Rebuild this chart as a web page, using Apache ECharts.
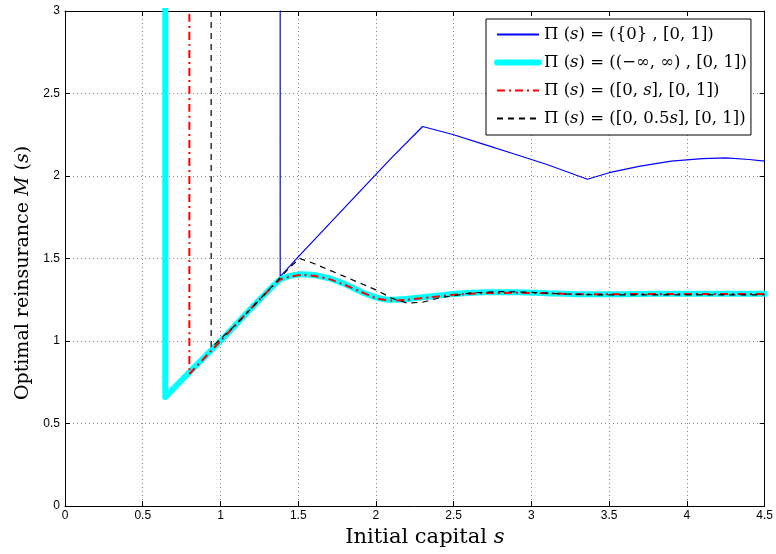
<!DOCTYPE html>
<html>
<head>
<meta charset="utf-8">
<script src="https://cdn.jsdelivr.net/npm/echarts@6/dist/echarts.min.js"></script>
<style>html,body{margin:0;padding:0;background:#fff}#c{width:776px;height:554px}</style>
</head>
<body>
<div id="c"></div>
<script>
// ---- data ----
var xTicks = [0, 0.5, 1, 1.5, 2, 2.5, 3, 3.5, 4, 4.5];
var yTicks = [0, 0.5, 1, 1.5, 2, 2.5, 3];

var sBlue = [1.384, 1.384, 1.5, 1.7, 1.9, 2.1, 2.3, 2.5, 2.7, 2.9, 3.1, 3.36, 3.5, 3.7, 3.9, 4.1, 4.25, 4.4, 4.5];
var mBlue = [3.2, 1.39, 1.51, 1.71, 1.91, 2.11, 2.30, 2.25, 2.19, 2.13, 2.07, 1.98, 2.02, 2.06, 2.09, 2.105, 2.11, 2.10, 2.09];

var sCyan = [0.645, 0.645, 0.8, 1.0, 1.2, 1.38, 1.45, 1.52, 1.6, 1.7, 1.8, 1.9, 2.0, 2.1, 2.2, 2.35, 2.5, 2.7, 2.9, 3.1, 3.3, 3.5, 3.7, 3.9, 4.1, 4.3, 4.5];
var mCyan = [3.2, 0.66, 0.81, 1.0, 1.2, 1.37, 1.395, 1.405, 1.40, 1.38, 1.345, 1.30, 1.265, 1.25, 1.255, 1.27, 1.285, 1.295, 1.295, 1.29, 1.283, 1.283, 1.285, 1.287, 1.287, 1.287, 1.287];

var sRed = [0.80, 0.80, 1.0, 1.2, 1.38, 1.45, 1.52, 1.6, 1.7, 1.8, 1.9, 2.0, 2.1, 2.2, 2.35, 2.5, 2.7, 2.9, 3.1, 3.3, 3.5, 3.7, 3.9, 4.1, 4.3, 4.5];
var mRed = [3.2, 0.80, 1.0, 1.2, 1.37, 1.39, 1.40, 1.395, 1.375, 1.34, 1.30, 1.26, 1.245, 1.25, 1.265, 1.28, 1.29, 1.292, 1.29, 1.283, 1.283, 1.285, 1.285, 1.285, 1.285, 1.285];

var sBlack = [0.94, 0.94, 1.1, 1.25, 1.38, 1.45, 1.51, 1.6, 1.7, 1.8, 1.9, 2.0, 2.1, 2.2, 2.3, 2.4, 2.5, 2.6, 2.8, 3.0, 3.2, 3.4, 3.6, 4.0, 4.5];
var mBlack = [3.2, 0.96, 1.1, 1.25, 1.38, 1.45, 1.50, 1.47, 1.43, 1.39, 1.35, 1.31, 1.26, 1.23, 1.235, 1.26, 1.275, 1.29, 1.30, 1.295, 1.285, 1.28, 1.28, 1.28, 1.28];

var names = [
  'Π (s) = ({0} , [0, 1])',
  'Π (s) = ((−∞, ∞) , [0, 1])',
  'Π (s) = ([0, s], [0, 1])',
  'Π (s) = ([0, 0.5s], [0, 1])'
];
var legendRich = [
  'Π ({i|s}) = ({0} , [0, 1])',
  'Π ({i|s}) = ((−∞, ∞) , [0, 1])',
  'Π ({i|s}) = ([0, {i|s}], [0, 1])',
  'Π ({i|s}) = ([0, 0.5{i|s}], [0, 1])'
];

function pairs(xs, ys) { return xs.map(function (x, i) { return [x, ys[i]]; }); }

var serif = 'DejaVu Serif';
var chart = echarts.init(document.getElementById('c'), null, { renderer: 'canvas' });

var option = {
  animation: false,
  backgroundColor: '#fff',
  grid: { left: 65, right: 10, top: 11, bottom: 48, show: false },
  legend: {
    orient: 'vertical',
    left: 486, top: 19,
    padding: [7, 4, 8, 8],
    itemGap: 11,
    itemWidth: 42, itemHeight: 14,
    borderColor: '#000', borderWidth: 1, borderRadius: 0,
    backgroundColor: '#fff',
    itemStyle: { opacity: 0 },
    data: [
      { name: names[0] },
      { name: names[1], lineStyle: { width: 6 } },
      { name: names[2] },
      { name: names[3] }
    ],
    formatter: function (n) { return legendRich[names.indexOf(n)]; },
    textStyle: {
      fontFamily: serif, fontSize: 16.5, color: '#000',
      rich: { i: { fontFamily: serif, fontSize: 16.5, fontStyle: 'italic', color: '#000' } }
    }
  },
  xAxis: [{
    type: 'value', min: 0, max: 4.5, interval: 0.5,
    name: 'Initial capital {i|s}', nameLocation: 'middle', nameGap: 20,
    nameTextStyle: { fontFamily: serif, fontSize: 21, color: '#000', padding: [0, 0, 0, 20],
      rich: { i: { fontFamily: serif, fontSize: 21, fontStyle: 'italic', color: '#000' } } },
    axisLine: { show: true, onZero: false, lineStyle: { color: '#000', width: 1 } },
    axisTick: { inside: true, length: 5, lineStyle: { color: '#000' } },
    axisLabel: { color: '#000', fontFamily: 'Liberation Sans', fontSize: 12, margin: 4,
      formatter: function (v) { return String(v); } },
    splitLine: { show: true, lineStyle: { color: '#888', type: [1, 3], width: 1 } }
  }, {
    type: 'value', min: 0, max: 4.5, interval: 0.5, position: 'top',
    axisLine: { show: true, onZero: false, lineStyle: { color: '#000', width: 1 } },
    axisTick: { inside: true, length: 5, lineStyle: { color: '#000' } },
    axisLabel: { show: false }, splitLine: { show: false }
  }],
  yAxis: [{
    type: 'value', min: 0, max: 3, interval: 0.5,
    name: 'Optimal reinsurance {i|M} ({i|s})', nameLocation: 'middle', nameGap: 30,
    nameTextStyle: { fontFamily: serif, fontSize: 19, color: '#000', padding: [0, 29, 0, 0],
      rich: { i: { fontFamily: serif, fontSize: 19, fontStyle: 'italic', color: '#000' } } },
    axisLine: { show: true, onZero: false, lineStyle: { color: '#000', width: 1 } },
    axisTick: { inside: true, length: 5, lineStyle: { color: '#000' } },
    axisLabel: { color: '#000', fontFamily: 'Liberation Sans', fontSize: 12, margin: 5,
      formatter: function (v) { return String(v); } },
    splitLine: { show: true, lineStyle: { color: '#888', type: [1, 3], width: 1 } }
  }, {
    type: 'value', min: 0, max: 3, interval: 0.5, position: 'right',
    axisLine: { show: true, onZero: false, lineStyle: { color: '#000', width: 1 } },
    axisTick: { inside: true, length: 5, lineStyle: { color: '#000' } },
    axisLabel: { show: false }, splitLine: { show: false }
  }],
  series: [
    { name: names[0], type: 'line', data: pairs(sBlue, mBlue), showSymbol: false, symbol: 'none', clip: true,
      lineStyle: { color: '#0000ff', width: 1.2 }, itemStyle: { color: '#0000ff' } },
    { name: names[1], type: 'line', data: pairs(sCyan, mCyan), showSymbol: false, symbol: 'none', clip: true, smooth: 0.2,
      lineStyle: { color: '#00ffff', width: 6, cap: 'round', join: 'round' }, itemStyle: { color: '#00ffff' } },
    { name: names[2], type: 'line', data: pairs(sRed, mRed), showSymbol: false, symbol: 'none', clip: true, smooth: 0.2,
      lineStyle: { color: '#ff0000', width: 2, type: [8, 4, 2, 4] }, itemStyle: { color: '#ff0000' } },
    { name: names[3], type: 'line', data: pairs(sBlack, mBlack), showSymbol: false, symbol: 'none', clip: true,
      lineStyle: { color: '#000000', width: 1.2, type: [6, 5] }, itemStyle: { color: '#000000' } }
  ]
};
chart.setOption(option);
</script>
</body>
</html>
